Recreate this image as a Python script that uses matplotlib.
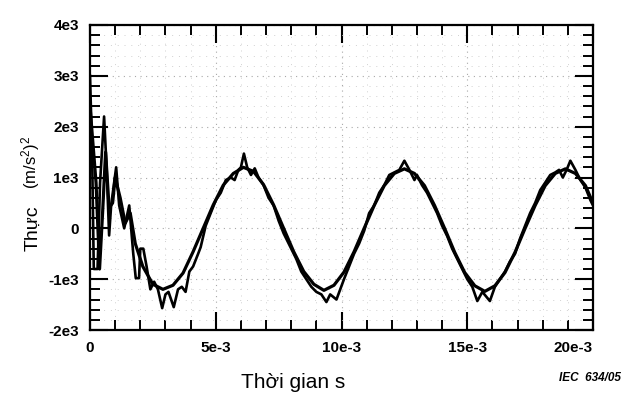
import numpy as np
import matplotlib
matplotlib.use("Agg")
import matplotlib.pyplot as plt
from matplotlib.ticker import MultipleLocator

# Time in ms, values in units of 1e3 (m/s^2)^2
t_meas = [0.0, 0.08, 0.15, 0.3, 0.4, 0.56, 0.66, 0.76, 0.84, 1.04, 1.16, 1.36, 1.56,
          1.72, 1.82, 1.95, 2.0, 2.12, 2.25, 2.4, 2.55, 2.7, 2.87, 3.0, 3.12, 3.33,
          3.5, 3.65, 3.8, 3.95, 4.1, 4.3, 4.4, 4.6, 4.8, 5.0, 5.2, 5.4, 5.6, 5.75,
          5.9, 6.0, 6.12, 6.25, 6.4, 6.55, 6.7, 6.9, 7.1, 7.3, 7.5, 7.7, 7.85, 8.0,
          8.2, 8.4, 8.6, 8.8, 9.0, 9.2, 9.4, 9.55, 9.8, 9.95, 10.1, 10.3, 10.5, 10.7,
          10.9, 11.1, 11.3, 11.5, 11.7, 11.9, 12.1, 12.3, 12.5, 12.7, 12.9, 13.0,
          13.2, 13.4, 13.6, 13.8, 14.0, 14.2, 14.4, 14.6, 14.8, 15.0, 15.2, 15.4,
          15.6, 15.9, 16.1, 16.3, 16.5, 16.7, 16.9, 17.1, 17.3, 17.5, 17.7, 17.9,
          18.1, 18.3, 18.5, 18.65, 18.8, 18.95, 19.1, 19.3, 19.5, 19.7, 19.9, 20.1]
v_meas = [3.0, 1.6, -0.8, -0.8, 0.9, 2.2, 1.2, -0.14, 0.45, 1.2, 0.45, 0.0, 0.45,
          -0.5, -0.98, -0.98, -0.4, -0.4, -0.75, -1.2, -1.05, -1.2, -1.57, -1.3, -1.25, -1.55,
          -1.2, -1.15, -1.25, -0.85, -0.75, -0.5, -0.37, 0.05, 0.3, 0.55, 0.7, 0.95, 1.0, 0.95,
          1.15, 1.2, 1.47, 1.2, 1.05, 1.18, 1.0, 0.85, 0.6, 0.45, 0.15, -0.1, -0.25, -0.4,
          -0.6, -0.85, -1.0, -1.15, -1.25, -1.3, -1.45, -1.3, -1.4, -1.2, -1.0, -0.75, -0.5, -0.3,
          -0.05, 0.3, 0.45, 0.7, 0.85, 1.05, 1.1, 1.15, 1.33, 1.15, 0.95, 1.05,
          0.85, 0.7, 0.5, 0.3, 0.05, -0.15, -0.4, -0.6, -0.8, -1.0, -1.15, -1.43,
          -1.25, -1.43, -1.15, -1.0, -0.85, -0.65, -0.5, -0.2, 0.05, 0.3, 0.5, 0.75,
          0.9, 1.05, 1.1, 1.15, 1.0, 1.15, 1.33, 1.15, 0.95, 0.8, 0.55, 0.35]

t_fit = [0.0, 0.24, 0.38, 0.5, 0.62, 0.76, 0.9, 1.0, 1.2, 1.4, 1.6, 1.8, 2.1, 2.5,
         2.9, 3.3, 3.7, 4.1, 4.5, 4.9, 5.3, 5.7, 6.1, 6.5, 6.9, 7.3, 7.7, 8.1, 8.5,
         8.9, 9.3, 9.7, 10.1, 10.5, 10.9, 11.3, 11.7, 12.1, 12.5, 12.9, 13.3, 13.7,
         14.1, 14.5, 14.9, 15.3, 15.7, 16.1, 16.5, 16.9, 17.3, 17.7, 18.1, 18.5,
         18.9, 19.3, 19.7, 20.1]
v_fit = [2.4, 0.9, -0.8, 0.3, 1.5, 0.4, 0.5, 1.0, 0.6, 0.1, 0.3, -0.3, -0.75, -1.1,
         -1.2, -1.12, -0.88, -0.46, 0.0, 0.46, 0.85, 1.08, 1.2, 1.12, 0.86, 0.46, 0.0, -0.46, -0.85,
         -1.1, -1.22, -1.12, -0.86, -0.46, 0.0, 0.45, 0.84, 1.08, 1.17, 1.08, 0.84, 0.45,
         0.0, -0.47, -0.87, -1.13, -1.24, -1.13, -0.87, -0.47, 0.0, 0.45, 0.84, 1.08,
         1.17, 1.08, 0.84, 0.38]

x_ticks = [0, 5e-3, 10e-3, 15e-3, 20e-3]
x_labels = ["0", "5e-3", "10e-3", "15e-3", "20e-3"]
y_ticks = [-2e3, -1e3, 0, 1e3, 2e3, 3e3, 4e3]
y_labels = ["-2e3", "-1e3", "0", "1e3", "2e3", "3e3", "4e3"]

plt.rcParams["font.family"] = ["Liberation Sans", "DejaVu Sans"]
plt.rcParams["mathtext.default"] = "regular"

fig = plt.figure(figsize=(6.27, 3.95), dpi=100)
ax = fig.add_axes([90 / 627, 1 - 330 / 395, 503 / 627, 305 / 395])

ax.plot(np.array(t_fit) * 1e-3, np.array(v_fit) * 1e3, color="black", lw=2.3,
        solid_joinstyle="round")
ax.plot(np.array(t_meas) * 1e-3, np.array(v_meas) * 1e3, color="black", lw=1.9,
        solid_joinstyle="round")

ax.set_xlim(0, 20e-3)
ax.set_ylim(-2e3, 4e3)

ax.set_xticks(x_ticks)
ax.set_xticklabels(x_labels)
ax.get_xticklabels()[-1].set_horizontalalignment("right")
ax.set_yticks(y_ticks)
ax.set_yticklabels(y_labels)
ax.xaxis.set_minor_locator(MultipleLocator(1e-3))
ax.yaxis.set_minor_locator(MultipleLocator(200))

ax.tick_params(which="major", direction="in", length=13, width=1.5,
               top=True, right=True, labelsize=11, pad=8)
ax.tick_params(which="minor", direction="in", length=7, width=1.4,
               top=True, right=True)
for lab in ax.get_xticklabels() + ax.get_yticklabels():
    lab.set_fontweight("bold")

for s in ax.spines.values():
    s.set_linewidth(1.6)
    s.set_color("black")

ax.grid(which="major", color="#a8a8a8", linestyle=(0, (1, 4)), lw=0.8)
ax.grid(which="minor", color="#d0d0d0", linestyle=(0, (1, 6)), lw=0.7)
ax.set_axisbelow(True)

fig.text(293 / 627, 1 - 383 / 395, "Thời gian s", ha="center", va="center",
         fontsize=15)
fig.text(33 / 627, 1 - 228 / 395, "Thực", rotation=90, ha="center",
         va="center", fontsize=14)
fig.text(31 / 627, 1 - 162 / 395, r"(m/s$^{2}$)$^{2}$", rotation=90, ha="center",
         va="center", fontsize=12)
fig.text(590 / 627, 1 - 378 / 395, "IEC  634/05", ha="center", va="center",
         fontsize=8.5, style="italic", fontweight="bold")

fig.savefig("out.png", dpi=100)
